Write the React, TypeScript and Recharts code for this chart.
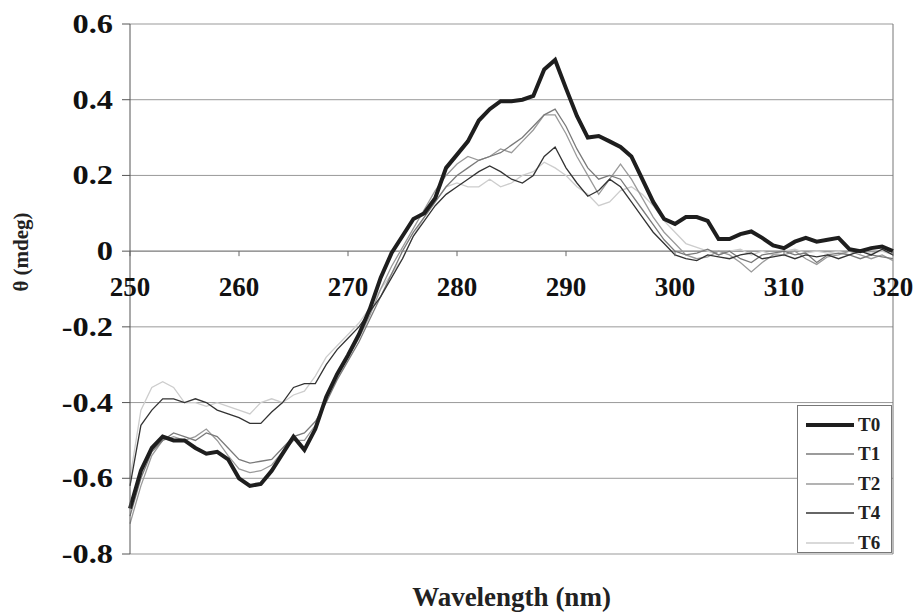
import { LineChart, Line, XAxis, YAxis, CartesianGrid, ReferenceLine, Legend, Label } from 'recharts'

// wavelength (nm) and CD signal θ (mdeg), 1 nm step
const wavelengths = [
  250, 251, 252, 253, 254, 255, 256, 257, 258, 259,
  260, 261, 262, 263, 264, 265, 266, 267, 268, 269,
  270, 271, 272, 273, 274, 275, 276, 277, 278, 279,
  280, 281, 282, 283, 284, 285, 286, 287, 288, 289,
  290, 291, 292, 293, 294, 295, 296, 297, 298, 299,
  300, 301, 302, 303, 304, 305, 306, 307, 308, 309,
  310, 311, 312, 313, 314, 315, 316, 317, 318, 319, 320,
]

const t0 = [
  -0.68, -0.58, -0.52, -0.49, -0.5, -0.5, -0.52, -0.535, -0.53, -0.55,
  -0.6, -0.62, -0.615, -0.58, -0.535, -0.49, -0.525, -0.47, -0.385, -0.325,
  -0.275, -0.22, -0.153, -0.07, -0.005, 0.04, 0.085, 0.1, 0.14, 0.22,
  0.255, 0.29, 0.345, 0.375, 0.396, 0.396, 0.4, 0.41, 0.48, 0.505,
  0.43, 0.357, 0.3, 0.304, 0.29, 0.275, 0.25, 0.19, 0.13, 0.085,
  0.072, 0.09, 0.09, 0.08, 0.032, 0.032, 0.045, 0.052, 0.035, 0.015,
  0.008, 0.025, 0.035, 0.025, 0.03, 0.035, 0.005, 0.0, 0.008, 0.012, 0.0,
]

const t1 = [
  -0.7, -0.6, -0.53, -0.5, -0.48, -0.49, -0.5, -0.48, -0.49, -0.52,
  -0.55, -0.56, -0.555, -0.55, -0.52, -0.49, -0.48, -0.45, -0.4, -0.34,
  -0.29, -0.24, -0.18, -0.12, -0.06, 0.0, 0.05, 0.09, 0.13, 0.17,
  0.2, 0.22, 0.24, 0.25, 0.26, 0.28, 0.3, 0.33, 0.36, 0.375,
  0.33, 0.27, 0.22, 0.19, 0.2, 0.19, 0.15, 0.11, 0.07, 0.03,
  0.0, -0.01, -0.005, 0.005, -0.01, 0.0, -0.02, -0.03, -0.01, -0.005,
  0.0, -0.01, -0.005, -0.03, -0.01, -0.005, -0.01, -0.02, -0.01, -0.015, -0.02,
]

const t2 = [
  -0.72, -0.62, -0.54, -0.5, -0.49, -0.5, -0.49, -0.47, -0.5, -0.54,
  -0.575, -0.585, -0.58, -0.565, -0.53, -0.5, -0.5, -0.46, -0.39, -0.33,
  -0.28, -0.23, -0.17, -0.1, -0.04, 0.01, 0.06, 0.11, 0.16, 0.2,
  0.23, 0.25, 0.24, 0.25, 0.27, 0.26, 0.29, 0.32, 0.36, 0.36,
  0.31, 0.25, 0.2, 0.15, 0.19, 0.23, 0.19, 0.14, 0.09, 0.05,
  0.02, -0.01, -0.02, -0.015, 0.0, -0.01, -0.03, -0.055, -0.03, -0.01,
  -0.01, 0.0, -0.02, -0.035, -0.015, -0.01, 0.0, -0.01, -0.02, -0.01, -0.025,
]

const t4 = [
  -0.62, -0.46, -0.42, -0.39, -0.39, -0.4, -0.39, -0.4, -0.42, -0.43,
  -0.44, -0.455, -0.455, -0.425, -0.4, -0.36, -0.35, -0.35, -0.3, -0.26,
  -0.23, -0.2, -0.16, -0.12, -0.07, -0.02, 0.04, 0.08, 0.12, 0.15,
  0.17, 0.19, 0.21, 0.225, 0.21, 0.19, 0.18, 0.2, 0.25, 0.275,
  0.22, 0.18, 0.145, 0.16, 0.19, 0.17, 0.13, 0.09, 0.05, 0.02,
  -0.01, -0.02, -0.025, -0.01, -0.015, -0.02, -0.01, -0.005, -0.02, -0.015,
  -0.01, -0.02, -0.01, -0.015, -0.01, -0.02, -0.01, 0.0, -0.01, 0.005, -0.01,
]

const t6 = [
  -0.6, -0.42, -0.36, -0.345, -0.36, -0.4, -0.4, -0.41, -0.4, -0.41,
  -0.42, -0.43, -0.4, -0.39, -0.4, -0.38, -0.37, -0.33, -0.28, -0.25,
  -0.22, -0.19, -0.15, -0.1, -0.06, -0.02, 0.04, 0.09, 0.13, 0.17,
  0.18, 0.17, 0.17, 0.19, 0.17, 0.18, 0.2, 0.21, 0.235, 0.22,
  0.2, 0.17, 0.15, 0.12, 0.13, 0.16, 0.17, 0.15, 0.12, 0.08,
  0.05, 0.02, 0.01, 0.0, -0.01, 0.0, 0.005, -0.01, 0.0, -0.01,
  0.0, 0.005, -0.005, 0.0, -0.005, 0.0, -0.01, 0.0, -0.005, 0.0, -0.01,
]

const xTicks = [250, 260, 270, 280, 290, 300, 310, 320]
const yTicks = [-0.8, -0.6, -0.4, -0.2, 0, 0.2, 0.4, 0.6]

const data = wavelengths.map((w, i) => ({
  w,
  T0: t0[i],
  T1: t1[i],
  T2: t2[i],
  T4: t4[i],
  T6: t6[i],
}))

const series = [
  { key: 'T0', color: '#1e1e1e', width: 4 },
  { key: 'T1', color: '#7a7a7a', width: 1.3 },
  { key: 'T2', color: '#9a9a9a', width: 1.3 },
  { key: 'T4', color: '#333333', width: 1.3 },
  { key: 'T6', color: '#cdcdcd', width: 1.3 },
]

const W = 921
const H = 612
const M = { top: 24, right: 28, left: 0, bottom: 0 }
const Y_AXIS_W = 130
const X_AXIS_H = 58
const Y_MIN = -0.8
const Y_MAX = 0.6
const FONT = '"Liberation Serif", "Times New Roman", serif'

const plotTop = M.top
const plotH = H - M.top - M.bottom - X_AXIS_H
// x axis crosses at θ = 0
const zeroY = plotTop + (plotH * Y_MAX) / (Y_MAX - Y_MIN)

function XTick(props: any) {
  const { x, payload } = props
  return (
    <g>
      <line x1={x} x2={x} y1={zeroY} y2={zeroY + 5} stroke="#666" />
      <text x={x} y={zeroY + 45} textAnchor="middle" fontFamily={FONT} fontWeight="bold" fontSize={27} fill="#111">
        {payload.value}
      </text>
    </g>
  )
}

function YTick(props: any) {
  const { x, y, payload } = props
  return (
    <text
      transform={`translate(${x - 7},${y + 9}) scale(1.2,1)`}
      textAnchor="end"
      fontFamily={FONT}
      fontWeight="bold"
      fontSize={27}
      fill="#111"
    >
      {payload.value}
    </text>
  )
}

function YTitle() {
  return (
    <text x={28} y={252} transform="rotate(-90 28 252)" textAnchor="middle" fontFamily={FONT} fontWeight="bold" fontSize={21} fill="#222">
      θ (mdeg)
    </text>
  )
}

function XTitle(props: any) {
  const { viewBox } = props
  const cx = viewBox.x + viewBox.width / 2
  return (
    <text x={cx} y={viewBox.y + 52} textAnchor="middle" fontFamily={FONT} fontWeight="bold" fontSize={27} fill="#222">
      Wavelength (nm)
    </text>
  )
}

function LegendBox() {
  return (
    <div style={{ width: 95, height: 148, border: '1px solid #777', background: '#fff', boxSizing: 'border-box', paddingTop: 4 }}>
      {series.map((s) => (
        <div key={s.key} style={{ display: 'flex', alignItems: 'center', height: 29.5 }}>
          <svg width={60} height={10}>
            <line x1={8} x2={56} y1={5} y2={5} stroke={s.color} strokeWidth={s.width === 4 ? 4 : 1.5} />
          </svg>
          <span style={{ fontFamily: FONT, fontWeight: 'bold', fontSize: 19, color: '#222' }}>{s.key}</span>
        </div>
      ))}
    </div>
  )
}

export default function App() {
  const drawOrder = ['T6', 'T2', 'T1', 'T4', 'T0']
  return (
    <div style={{ position: 'absolute', left: 0, top: 0, background: '#fff' }}>
      <LineChart width={W} height={H} data={data} margin={M}>
        <CartesianGrid vertical={false} stroke="#999" horizontalValues={yTicks} />
        <XAxis
          dataKey="w"
          type="number"
          domain={[250, 320]}
          ticks={xTicks}
          height={X_AXIS_H}
          axisLine={false}
          tickLine={false}
          tick={<XTick />}
          interval={0}
        >
          <Label content={<XTitle />} />
        </XAxis>
        <YAxis
          type="number"
          domain={[Y_MIN, Y_MAX]}
          ticks={yTicks}
          width={Y_AXIS_W}
          axisLine={{ stroke: '#555' }}
          tickLine={{ stroke: '#555' }}
          tickSize={8}
          tick={<YTick />}
          interval={0}
        >
          <Label content={<YTitle />} />
        </YAxis>
        <ReferenceLine x={320} stroke="#777" />
        <ReferenceLine y={0} stroke="#888" />
        {drawOrder.map((k) => {
          const s = series.find((q) => q.key === k)!
          return (
            <Line
              key={k}
              type="linear"
              dataKey={k}
              stroke={s.color}
              strokeWidth={s.width}
              dot={false}
              isAnimationActive={false}
              legendType="none"
            />
          )
        })}
        <Legend
          layout="vertical"
          align="center"
          verticalAlign="middle"
          wrapperStyle={{ left: 797, top: 405, width: 95 }}
          content={<LegendBox />}
        />
      </LineChart>
    </div>
  )
}
